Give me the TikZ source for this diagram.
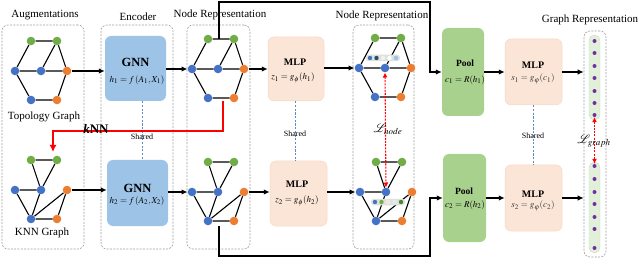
\documentclass[tikz,border=0pt]{standalone}
\usepackage{amsmath}
\usepackage{mathptmx}
\usepackage[no-math]{fontspec}
\setmainfont{Liberation Serif}
\usetikzlibrary{arrows.meta,calc}
\definecolor{nblue}{HTML}{4472C4}
\definecolor{ngreen}{HTML}{70AD47}
\definecolor{norange}{HTML}{ED7D31}
\definecolor{gnnfill}{HTML}{9DC3E6}
\definecolor{mlpfill}{HTML}{FBE5D6}
\definecolor{mlpline}{HTML}{F4D9C6}
\definecolor{poolfill}{HTML}{A9D18E}
\definecolor{stripfill}{HTML}{E2F0D9}
\definecolor{stripline}{HTML}{C9D9BF}
\definecolor{embfill}{HTML}{DDE3DA}
\definecolor{npurple}{HTML}{7030A0}
\definecolor{panelgray}{HTML}{A0A0A0}
\definecolor{shareblue}{HTML}{5B8BC5}
\definecolor{navy}{HTML}{2F4A6E}
\definecolor{pale}{HTML}{EEF2F4}
\definecolor{lblue}{HTML}{9DC3E6}
\definecolor{cream}{HTML}{FBE5D6}
\definecolor{dgreen}{HTML}{548235}
\definecolor{vlblue}{HTML}{DEEBF7}
\tikzset{
  vtx/.style={circle,inner sep=0pt,minimum size=8.6pt},
  vb/.style={vtx,fill=nblue},
  vg/.style={vtx,fill=ngreen},
  vo/.style={vtx,fill=norange},
  gedge/.style={line width=1.1pt,black},
  hexgraph/.pic={
    \node[vb] (-bL) at (0,0) {};
    \node[vg] (-g1) at (16,-30) {};
    \node[vg] (-g2) at (42,-30) {};
    \node[vb] (-bM) at (26,0) {};
    \node[vo] (-oR) at (52,0) {};
    \node[vb] (-bB) at (16,29) {};
    \node[vo] (-oB) at (42,29) {};
    \draw[gedge] (-g1) -- (-g2) (-g1) -- (-bL) (-bL) -- (-bB) (-bB) -- (-oB)
      (-oB) -- (-oR) (-oR) -- (-g2) (-bL) -- (-bM) (-bM) -- (-oR) (-bM) -- (-g2);
  },
  knngraph/.pic={
    \node[vb] (-bL) at (0,0) {};
    \node[vg] (-g1) at (16,-30) {};
    \node[vg] (-g2) at (42,-30) {};
    \node[vb] (-bM) at (26,0) {};
    \node[vo] (-oR) at (52,0) {};
    \node[vb] (-bB) at (16,29) {};
    \node[vo] (-oB) at (42,29) {};
    \draw[gedge] (-g1) -- (-g2) (-g1) -- (-bM) (-g2) -- (-bM) (-bL) -- (-bM)
      (-bL) -- (-bB) (-bM) -- (-bB) (-bB) -- (-oR) (-bB) -- (-oB) (-oB) -- (-oR);
  },
  panel/.style={draw=panelgray,dash pattern=on 2pt off 1.3pt,line width=0.6pt,rounded corners=6pt,inner sep=0pt},
  blk/.style={rounded corners=6pt,inner sep=0pt,align=center},
  gnnbox/.style={blk,fill=gnnfill},
  mlpbox/.style={blk,fill=mlpfill,draw=mlpline,line width=0.5pt},
  poolbox/.style={blk,fill=poolfill},
  arr/.style={line width=1.2pt,-{Latex[length=6pt,width=5.5pt]}},
  sharedline/.style={draw=shareblue,dash pattern=on 2.2pt off 1.5pt,line width=0.8pt},
  lossarr/.style={draw=red,line width=1.1pt,dash pattern=on 2pt off 1.2pt,{Latex[length=5pt,width=5pt]}-{Latex[length=5pt,width=5pt]}},
  ttl/.style={font=\fontsize{11}{13}\selectfont,inner sep=0pt},
  shr/.style={font=\fontsize{8}{9}\selectfont,inner sep=0pt},
  edot/.style={circle,inner sep=0pt,minimum size=4.4pt},
  pdot/.style={circle,inner sep=0pt,minimum size=4pt,fill=npurple},
}
\begin{document}
\begin{tikzpicture}[x=1pt,y=-1pt]
\useasboundingbox (0,0) rectangle (640,259);
% panels
\node[panel,minimum width=82pt,minimum height=224pt] (pAug) at (43,137) {};
\node[panel,minimum width=72pt,minimum height=224pt] (pEnc) at (137,137) {};
\node[panel,minimum width=63pt,minimum height=224pt] (pNR1) at (218.5,137) {};
\node[panel,minimum width=61pt,minimum height=224pt] (pNR2) at (383.5,137) {};
\node[panel,minimum width=22pt,minimum height=226pt] (grbox) at (595,144) {};
% titles
\node[ttl] (tAug) at (45,15) {Augmentations};
\node[ttl] (tEnc) at (138,17) {Encoder};
\node[ttl] (tNR1) at (220,15) {Node Representation};
\node[ttl] (tNR2) at (382,16) {Node Representation};
\node[ttl] (tGR) at (590,20) {Graph Representation};
\node[ttl] (tTop) at (44,117) {Topology Graph};
\node[ttl] (tKnn) at (42,233) {KNN Graph};
% graphs
\pic (hA) at (15,71) {hexgraph};
\pic (kA) at (15,190) {knngraph};
\pic (hB) at (192,69) {hexgraph};
\pic (kB) at (192,192) {knngraph};
\pic (hC) at (359,68) {hexgraph};
\pic (kC) at (360,192) {knngraph};
% embedding strips
\node[fill=embfill,rounded corners=3pt,minimum width=34pt,minimum height=6.5pt,inner sep=0pt] (emb1) at (383,58) {};
\node[edot,fill=nblue] (e11) at (370,58) {};
\node[edot,fill=navy] (e12) at (376.5,58) {};
\node[edot,fill=pale] (e13) at (383,58) {};
\node[edot,fill=white] (e14) at (389.5,58) {};
\node[edot,fill=lblue] (e15) at (396,58) {};
\node[fill=embfill,rounded corners=3pt,minimum width=34pt,minimum height=6.5pt,inner sep=0pt] (emb2) at (388,202) {};
\node[edot,fill=nblue] (e21) at (375,202) {};
\node[edot,fill=ngreen] (e22) at (381.5,202) {};
\node[edot,fill=cream] (e23) at (388,202) {};
\node[edot,fill=vlblue] (e24) at (394.5,202) {};
\node[edot,fill=dgreen] (e25) at (401,202) {};
% GNN boxes
\node[gnnbox,minimum width=61pt,minimum height=65pt] (gnn1) at (135.5,68.5) {};
\node[font=\fontsize{12.5}{13}\selectfont\bfseries] (gnn1t) at (135.5,62) {GNN};
\node[font=\fontsize{9}{10}\selectfont] (gnn1f) at (137,80) {$h_1=f\,(A_1,X_1)$};
\node[gnnbox,minimum width=61pt,minimum height=66pt] (gnn2) at (137.5,193) {};
\node[font=\fontsize{12.5}{13}\selectfont\bfseries] (gnn2t) at (137.5,188) {GNN};
\node[font=\fontsize{9}{10}\selectfont] (gnn2f) at (137,201) {$h_2=f\,(A_2,X_2)$};
% MLP boxes
\node[mlpbox,minimum width=56pt,minimum height=64pt] (mlp1) at (296,69) {};
\node[font=\fontsize{10}{11}\selectfont\bfseries] (mlp1t) at (295,62) {MLP};
\node[font=\fontsize{9}{10}\selectfont] (mlp1f) at (293,78) {$z_1=g_\phi(h_1)$};
\node[mlpbox,minimum width=57pt,minimum height=65pt] (mlp2) at (298.5,193.5) {};
\node[font=\fontsize{10}{11}\selectfont\bfseries] (mlp2t) at (297,184) {MLP};
\node[font=\fontsize{9}{10}\selectfont] (mlp2f) at (297,201) {$z_2=g_\phi(h_2)$};
% Pool boxes
\node[poolbox,minimum width=42pt,minimum height=88pt] (pool1) at (463,72) {};
\node[font=\fontsize{9.5}{10}\selectfont\bfseries] (pool1t) at (465,63) {Pool};
\node[font=\fontsize{9}{10}\selectfont] (pool1f) at (465,80) {$c_1=R(h_1)$};
\node[poolbox,minimum width=43pt,minimum height=88pt] (pool2) at (464.5,198) {};
\node[font=\fontsize{9.5}{10}\selectfont\bfseries] (pool2t) at (464,191) {Pool};
\node[font=\fontsize{9}{10}\selectfont] (pool2f) at (465,205) {$c_2=R(h_2)$};
% MLP boxes right
\node[mlpbox,minimum width=57pt,minimum height=66pt] (mlp3) at (533.5,72) {};
\node[font=\fontsize{10}{11}\selectfont\bfseries] (mlp3t) at (533,65) {MLP};
\node[font=\fontsize{9}{10}\selectfont,text=black!80] (mlp3f) at (533,79) {$s_1=g_\varphi(c_1)$};
\node[mlpbox,minimum width=57pt,minimum height=66pt] (mlp4) at (533.5,198) {};
\node[font=\fontsize{10}{11}\selectfont\bfseries] (mlp4t) at (533,194) {MLP};
\node[font=\fontsize{9}{10}\selectfont,text=black!80] (mlp4f) at (533,206) {$s_2=g_\varphi(c_2)$};
% shared lines
\draw[sharedline] (gnn1.south -| 142,0) -- (gnn2.north -| 142,0);
\node[shr] (sh1) at (142,137) {Shared};
\draw[sharedline] (mlp1.south -| 295,0) -- (mlp2.north -| 295,0);
\node[shr] (sh2) at (295,134) {Shared};
\draw[sharedline] (mlp3.south -| 533,0) -- (mlp4.north -| 533,0);
\node[shr] (sh3) at (533,136) {Shared};
% graph representation strips
\node[fill=stripfill,draw=stripline,line width=0.4pt,rounded corners=5.5pt,minimum width=11pt,minimum height=85pt,inner sep=0pt] (gs1) at (594.5,77.5) {};
\node[fill=stripfill,draw=stripline,line width=0.4pt,rounded corners=5.5pt,minimum width=11pt,minimum height=91pt,inner sep=0pt] (gs2) at (594.5,207.5) {};
\foreach \yy [count=\i] in {41,53,66,78,91,103,115} \node[pdot] (pa\i) at (594.5,\yy) {};
\foreach \yy [count=\i] in {166,179,192,204,217,229,248} \node[pdot] (pb\i) at (594.5,\yy) {};
% arrows
\draw[arr] (hA-oR) -- (gnn1.west |- hA-oR);
\draw[arr] (gnn1.east |- hB-bL) -- (hB-bL);
\draw[arr] (kA-oR) -- (gnn2.west |- kA-oR);
\draw[arr] (gnn2.east |- kB-bL) -- (kB-bL);
\draw[arr] (hB-oR) -- (mlp1.west |- hB-oR);
\draw[arr] (mlp1.east |- hC-bL) -- (hC-bL);
\draw[arr] (kB-oR) -- (mlp2.west |- kB-oR);
\draw[arr] (mlp2.east |- kC-bL) -- (kC-bL);
\draw[arr] (pool1.east) -- (mlp3.west |- pool1.east);
\draw[arr] (pool2.east) -- (mlp4.west |- pool2.east);
\draw[arr] (mlp3.east) -- (grbox.west |- mlp3.east);
\draw[arr] (mlp4.east) -- (grbox.west |- mlp4.east);
% long black connectors
\coordinate (topstart) at (219,39);
\coordinate (topcorner) at (430,2);
\draw[line width=1.2pt,-{Latex[length=6pt,width=5.5pt]}] (topstart) |- (topcorner) |- (pool1.west);
\coordinate (botstart) at (219,226);
\coordinate (botcorner) at (430,256);
\draw[line width=1.2pt,-{Latex[length=6pt,width=5.5pt]}] (botstart) |- (botcorner) |- (pool2.west);
% kNN red connector
\coordinate (kstart) at (223,101);
\coordinate (kend) at (53,152);
\draw[red,line width=2pt,-{Latex[length=7pt,width=7pt]}] (kstart) |- (kend |- 0,131) -- (kend);
\node[font=\fontsize{13}{13}\selectfont\bfseries,inner sep=0pt] (knnlbl) at (96,128.5) {\textit{k}NN};
% losses
\draw[lossarr] (hC-bM) -- (kC-bM);
\node[font=\fontsize{12}{12}\selectfont,inner sep=1pt] (lnode) at (388,129) {$\mathcal{L}_{\boldsymbol{node}}$};
\draw[lossarr] (pa7) -- (pb1);
\node[font=\fontsize{12}{12}\selectfont,inner sep=0pt] (lgraph) at (594,141) {$\mathcal{L}_{\boldsymbol{graph}}$};
\end{tikzpicture}
\end{document}
